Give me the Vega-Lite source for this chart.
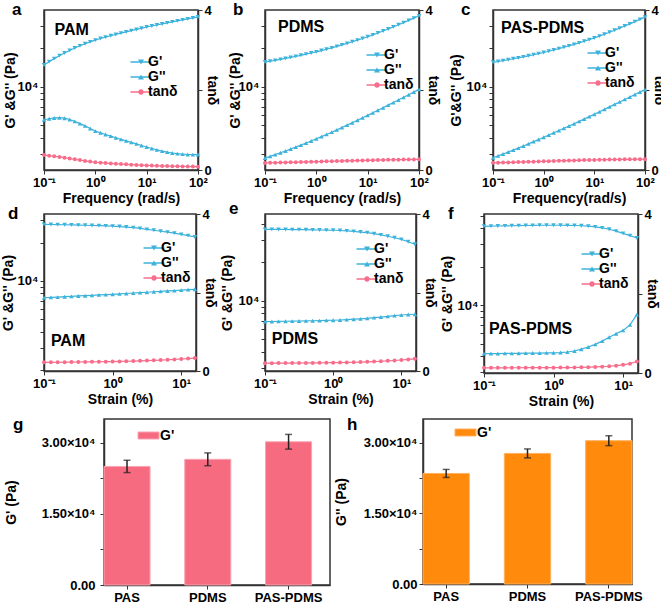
{
"$schema":"https://vega.github.io/schema/vega-lite/v6.json",
"padding":{"left":0,"top":0,"right":0,"bottom":0},
"background":"white",
"config":{
 "font":"Liberation Sans",
 "view":{"stroke":"#333","strokeWidth":1.5},
 "axis":{"grid":false,"labelFont":"Liberation Sans","labelFontWeight":"bold","labelFontSize":13,"labelColor":"black","titleFont":"Liberation Sans","titleFontWeight":"bold","titleFontSize":14,"titleColor":"black","domainColor":"#333","domainWidth":1.5,"tickColor":"#333","tickSize":4,"tickWidth":1,"labelFlush":false,"labelOverlap":false,"labelPadding":2,"titlePadding":2},
 "legend":{"padding":0,"offset":0},
 "title":{"fontSize":17,"fontWeight":"bold","anchor":"start","frame":"group","color":"black","font":"Liberation Sans"}
},
"datasets":{
"freq":[
{"p":"a","x":0.1,"s":"G'","v":14860},{"p":"a","x":0.126,"s":"G'","v":15780},{"p":"a","x":0.158,"s":"G'","v":16670},{"p":"a","x":0.2,"s":"G'","v":17580},{"p":"a","x":0.251,"s":"G'","v":18450},{"p":"a","x":0.316,"s":"G'","v":19320},{"p":"a","x":0.398,"s":"G'","v":20180},{"p":"a","x":0.501,"s":"G'","v":20990},{"p":"a","x":0.631,"s":"G'","v":21780},{"p":"a","x":0.794,"s":"G'","v":22540},{"p":"a","x":1,"s":"G'","v":23280},{"p":"a","x":1.26,"s":"G'","v":23930},{"p":"a","x":1.58,"s":"G'","v":24550},{"p":"a","x":2,"s":"G'","v":25180},{"p":"a","x":2.51,"s":"G'","v":25760},{"p":"a","x":3.16,"s":"G'","v":26360},{"p":"a","x":3.98,"s":"G'","v":26980},{"p":"a","x":5.01,"s":"G'","v":27610},{"p":"a","x":6.31,"s":"G'","v":28180},{"p":"a","x":7.94,"s":"G'","v":28770},{"p":"a","x":10,"s":"G'","v":29440},{"p":"a","x":12.6,"s":"G'","v":29990},{"p":"a","x":15.8,"s":"G'","v":30550},{"p":"a","x":20,"s":"G'","v":31120},{"p":"a","x":25.1,"s":"G'","v":31700},{"p":"a","x":31.6,"s":"G'","v":32280},{"p":"a","x":39.8,"s":"G'","v":32890},{"p":"a","x":50.1,"s":"G'","v":33500},{"p":"a","x":63.1,"s":"G'","v":34120},{"p":"a","x":79.4,"s":"G'","v":34670},{"p":"a","x":100,"s":"G'","v":35240},
{"p":"a","x":0.1,"s":"G''","v":5546},{"p":"a","x":0.126,"s":"G''","v":5649},{"p":"a","x":0.158,"s":"G''","v":5728},{"p":"a","x":0.2,"s":"G''","v":5754},{"p":"a","x":0.251,"s":"G''","v":5702},{"p":"a","x":0.316,"s":"G''","v":5572},{"p":"a","x":0.398,"s":"G''","v":5383},{"p":"a","x":0.501,"s":"G''","v":5176},{"p":"a","x":0.631,"s":"G''","v":4966},{"p":"a","x":0.794,"s":"G''","v":4742},{"p":"a","x":1,"s":"G''","v":4519},{"p":"a","x":1.26,"s":"G''","v":4385},{"p":"a","x":1.58,"s":"G''","v":4256},{"p":"a","x":2,"s":"G''","v":4130},{"p":"a","x":2.51,"s":"G''","v":4009},{"p":"a","x":3.16,"s":"G''","v":3899},{"p":"a","x":3.98,"s":"G''","v":3793},{"p":"a","x":5.01,"s":"G''","v":3690},{"p":"a","x":6.31,"s":"G''","v":3589},{"p":"a","x":7.94,"s":"G''","v":3491},{"p":"a","x":10,"s":"G''","v":3396},{"p":"a","x":12.6,"s":"G''","v":3304},{"p":"a","x":15.8,"s":"G''","v":3221},{"p":"a","x":20,"s":"G''","v":3155},{"p":"a","x":25.1,"s":"G''","v":3097},{"p":"a","x":31.6,"s":"G''","v":3048},{"p":"a","x":39.8,"s":"G''","v":3013},{"p":"a","x":50.1,"s":"G''","v":2985},{"p":"a","x":63.1,"s":"G''","v":2965},{"p":"a","x":79.4,"s":"G''","v":2958},{"p":"a","x":100,"s":"G''","v":2965},
{"p":"a","x":0.1,"s":"tanδ","v":0.373},{"p":"a","x":0.126,"s":"tanδ","v":0.358},{"p":"a","x":0.158,"s":"tanδ","v":0.344},{"p":"a","x":0.2,"s":"tanδ","v":0.327},{"p":"a","x":0.251,"s":"tanδ","v":0.309},{"p":"a","x":0.316,"s":"tanδ","v":0.288},{"p":"a","x":0.398,"s":"tanδ","v":0.267},{"p":"a","x":0.501,"s":"tanδ","v":0.247},{"p":"a","x":0.631,"s":"tanδ","v":0.228},{"p":"a","x":0.794,"s":"tanδ","v":0.21},{"p":"a","x":1,"s":"tanδ","v":0.194},{"p":"a","x":1.26,"s":"tanδ","v":0.183},{"p":"a","x":1.58,"s":"tanδ","v":0.173},{"p":"a","x":2,"s":"tanδ","v":0.164},{"p":"a","x":2.51,"s":"tanδ","v":0.156},{"p":"a","x":3.16,"s":"tanδ","v":0.148},{"p":"a","x":3.98,"s":"tanδ","v":0.141},{"p":"a","x":5.01,"s":"tanδ","v":0.134},{"p":"a","x":6.31,"s":"tanδ","v":0.127},{"p":"a","x":7.94,"s":"tanδ","v":0.121},{"p":"a","x":10,"s":"tanδ","v":0.115},{"p":"a","x":12.6,"s":"tanδ","v":0.11},{"p":"a","x":15.8,"s":"tanδ","v":0.105},{"p":"a","x":20,"s":"tanδ","v":0.101},{"p":"a","x":25.1,"s":"tanδ","v":0.098},{"p":"a","x":31.6,"s":"tanδ","v":0.094},{"p":"a","x":39.8,"s":"tanδ","v":0.092},{"p":"a","x":50.1,"s":"tanδ","v":0.089},{"p":"a","x":63.1,"s":"tanδ","v":0.087},{"p":"a","x":79.4,"s":"tanδ","v":0.085},{"p":"a","x":100,"s":"tanδ","v":0.084},
{"p":"b","x":0.1,"s":"G'","v":15668},{"p":"b","x":0.126,"s":"G'","v":15905},{"p":"b","x":0.158,"s":"G'","v":16164},{"p":"b","x":0.2,"s":"G'","v":16438},{"p":"b","x":0.251,"s":"G'","v":16728},{"p":"b","x":0.316,"s":"G'","v":17035},{"p":"b","x":0.398,"s":"G'","v":17356},{"p":"b","x":0.501,"s":"G'","v":17696},{"p":"b","x":0.631,"s":"G'","v":18054},{"p":"b","x":0.794,"s":"G'","v":18432},{"p":"b","x":1,"s":"G'","v":18836},{"p":"b","x":1.26,"s":"G'","v":19275},{"p":"b","x":1.58,"s":"G'","v":19742},{"p":"b","x":2,"s":"G'","v":20240},{"p":"b","x":2.51,"s":"G'","v":20768},{"p":"b","x":3.16,"s":"G'","v":21330},{"p":"b","x":3.98,"s":"G'","v":21928},{"p":"b","x":5.01,"s":"G'","v":22564},{"p":"b","x":6.31,"s":"G'","v":23240},{"p":"b","x":7.94,"s":"G'","v":23946},{"p":"b","x":10,"s":"G'","v":24697},{"p":"b","x":12.6,"s":"G'","v":25535},{"p":"b","x":15.8,"s":"G'","v":26433},{"p":"b","x":20,"s":"G'","v":27393},{"p":"b","x":25.1,"s":"G'","v":28420},{"p":"b","x":31.6,"s":"G'","v":29512},{"p":"b","x":39.8,"s":"G'","v":30660},{"p":"b","x":50.1,"s":"G'","v":31885},{"p":"b","x":63.1,"s":"G'","v":33180},{"p":"b","x":79.4,"s":"G'","v":34560},{"p":"b","x":100,"s":"G'","v":36020},
{"p":"b","x":0.1,"s":"G''","v":2786},{"p":"b","x":0.126,"s":"G''","v":2871},{"p":"b","x":0.158,"s":"G''","v":2962},{"p":"b","x":0.2,"s":"G''","v":3059},{"p":"b","x":0.251,"s":"G''","v":3162},{"p":"b","x":0.316,"s":"G''","v":3273},{"p":"b","x":0.398,"s":"G''","v":3390},{"p":"b","x":0.501,"s":"G''","v":3513},{"p":"b","x":0.631,"s":"G''","v":3646},{"p":"b","x":0.794,"s":"G''","v":3784},{"p":"b","x":1,"s":"G''","v":3934},{"p":"b","x":1.26,"s":"G''","v":4091},{"p":"b","x":1.58,"s":"G''","v":4257},{"p":"b","x":2,"s":"G''","v":4433},{"p":"b","x":2.51,"s":"G''","v":4620},{"p":"b","x":3.16,"s":"G''","v":4819},{"p":"b","x":3.98,"s":"G''","v":5030},{"p":"b","x":5.01,"s":"G''","v":5254},{"p":"b","x":6.31,"s":"G''","v":5490},{"p":"b","x":7.94,"s":"G''","v":5740},{"p":"b","x":10,"s":"G''","v":6003},{"p":"b","x":12.6,"s":"G''","v":6283},{"p":"b","x":15.8,"s":"G''","v":6577},{"p":"b","x":20,"s":"G''","v":6887},{"p":"b","x":25.1,"s":"G''","v":7213},{"p":"b","x":31.6,"s":"G''","v":7556},{"p":"b","x":39.8,"s":"G''","v":7919},{"p":"b","x":50.1,"s":"G''","v":8302},{"p":"b","x":63.1,"s":"G''","v":8707},{"p":"b","x":79.4,"s":"G''","v":9133},{"p":"b","x":100,"s":"G''","v":9583},
{"p":"b","x":0.1,"s":"tanδ","v":0.178},{"p":"b","x":0.126,"s":"tanδ","v":0.181},{"p":"b","x":0.158,"s":"tanδ","v":0.183},{"p":"b","x":0.2,"s":"tanδ","v":0.186},{"p":"b","x":0.251,"s":"tanδ","v":0.189},{"p":"b","x":0.316,"s":"tanδ","v":0.192},{"p":"b","x":0.398,"s":"tanδ","v":0.195},{"p":"b","x":0.501,"s":"tanδ","v":0.199},{"p":"b","x":0.631,"s":"tanδ","v":0.202},{"p":"b","x":0.794,"s":"tanδ","v":0.205},{"p":"b","x":1,"s":"tanδ","v":0.209},{"p":"b","x":1.26,"s":"tanδ","v":0.212},{"p":"b","x":1.58,"s":"tanδ","v":0.216},{"p":"b","x":2,"s":"tanδ","v":0.219},{"p":"b","x":2.51,"s":"tanδ","v":0.222},{"p":"b","x":3.16,"s":"tanδ","v":0.226},{"p":"b","x":3.98,"s":"tanδ","v":0.229},{"p":"b","x":5.01,"s":"tanδ","v":0.233},{"p":"b","x":6.31,"s":"tanδ","v":0.236},{"p":"b","x":7.94,"s":"tanδ","v":0.24},{"p":"b","x":10,"s":"tanδ","v":0.243},{"p":"b","x":12.6,"s":"tanδ","v":0.246},{"p":"b","x":15.8,"s":"tanδ","v":0.249},{"p":"b","x":20,"s":"tanδ","v":0.251},{"p":"b","x":25.1,"s":"tanδ","v":0.254},{"p":"b","x":31.6,"s":"tanδ","v":0.256},{"p":"b","x":39.8,"s":"tanδ","v":0.258},{"p":"b","x":50.1,"s":"tanδ","v":0.26},{"p":"b","x":63.1,"s":"tanδ","v":0.262},{"p":"b","x":79.4,"s":"tanδ","v":0.264},{"p":"b","x":100,"s":"tanδ","v":0.266},
{"p":"c","x":0.1,"s":"G'","v":15600},{"p":"c","x":0.126,"s":"G'","v":15830},{"p":"c","x":0.158,"s":"G'","v":16080},{"p":"c","x":0.2,"s":"G'","v":16340},{"p":"c","x":0.251,"s":"G'","v":16620},{"p":"c","x":0.316,"s":"G'","v":16910},{"p":"c","x":0.398,"s":"G'","v":17220},{"p":"c","x":0.501,"s":"G'","v":17540},{"p":"c","x":0.631,"s":"G'","v":17880},{"p":"c","x":0.794,"s":"G'","v":18240},{"p":"c","x":1,"s":"G'","v":18620},{"p":"c","x":1.26,"s":"G'","v":19030},{"p":"c","x":1.58,"s":"G'","v":19470},{"p":"c","x":2,"s":"G'","v":19940},{"p":"c","x":2.51,"s":"G'","v":20440},{"p":"c","x":3.16,"s":"G'","v":20970},{"p":"c","x":3.98,"s":"G'","v":21540},{"p":"c","x":5.01,"s":"G'","v":22140},{"p":"c","x":6.31,"s":"G'","v":22780},{"p":"c","x":7.94,"s":"G'","v":23450},{"p":"c","x":10,"s":"G'","v":24160},{"p":"c","x":12.6,"s":"G'","v":24980},{"p":"c","x":15.8,"s":"G'","v":25860},{"p":"c","x":20,"s":"G'","v":26800},{"p":"c","x":25.1,"s":"G'","v":27800},{"p":"c","x":31.6,"s":"G'","v":28870},{"p":"c","x":39.8,"s":"G'","v":29990},{"p":"c","x":50.1,"s":"G'","v":31180},{"p":"c","x":63.1,"s":"G'","v":32440},{"p":"c","x":79.4,"s":"G'","v":33790},{"p":"c","x":100,"s":"G'","v":35200},
{"p":"c","x":0.1,"s":"G''","v":2800},{"p":"c","x":0.126,"s":"G''","v":2895},{"p":"c","x":0.158,"s":"G''","v":2995},{"p":"c","x":0.2,"s":"G''","v":3100},{"p":"c","x":0.251,"s":"G''","v":3210},{"p":"c","x":0.316,"s":"G''","v":3330},{"p":"c","x":0.398,"s":"G''","v":3460},{"p":"c","x":0.501,"s":"G''","v":3595},{"p":"c","x":0.631,"s":"G''","v":3740},{"p":"c","x":0.794,"s":"G''","v":3890},{"p":"c","x":1,"s":"G''","v":4050},{"p":"c","x":1.26,"s":"G''","v":4215},{"p":"c","x":1.58,"s":"G''","v":4385},{"p":"c","x":2,"s":"G''","v":4565},{"p":"c","x":2.51,"s":"G''","v":4755},{"p":"c","x":3.16,"s":"G''","v":4955},{"p":"c","x":3.98,"s":"G''","v":5165},{"p":"c","x":5.01,"s":"G''","v":5385},{"p":"c","x":6.31,"s":"G''","v":5620},{"p":"c","x":7.94,"s":"G''","v":5865},{"p":"c","x":10,"s":"G''","v":6120},{"p":"c","x":12.6,"s":"G''","v":6395},{"p":"c","x":15.8,"s":"G''","v":6685},{"p":"c","x":20,"s":"G''","v":6990},{"p":"c","x":25.1,"s":"G''","v":7310},{"p":"c","x":31.6,"s":"G''","v":7645},{"p":"c","x":39.8,"s":"G''","v":7995},{"p":"c","x":50.1,"s":"G''","v":8360},{"p":"c","x":63.1,"s":"G''","v":8740},{"p":"c","x":79.4,"s":"G''","v":9140},{"p":"c","x":100,"s":"G''","v":9540},
{"p":"c","x":0.1,"s":"tanδ","v":0.179},{"p":"c","x":0.126,"s":"tanδ","v":0.183},{"p":"c","x":0.158,"s":"tanδ","v":0.186},{"p":"c","x":0.2,"s":"tanδ","v":0.19},{"p":"c","x":0.251,"s":"tanδ","v":0.193},{"p":"c","x":0.316,"s":"tanδ","v":0.197},{"p":"c","x":0.398,"s":"tanδ","v":0.201},{"p":"c","x":0.501,"s":"tanδ","v":0.205},{"p":"c","x":0.631,"s":"tanδ","v":0.209},{"p":"c","x":0.794,"s":"tanδ","v":0.213},{"p":"c","x":1,"s":"tanδ","v":0.218},{"p":"c","x":1.26,"s":"tanδ","v":0.221},{"p":"c","x":1.58,"s":"tanδ","v":0.225},{"p":"c","x":2,"s":"tanδ","v":0.229},{"p":"c","x":2.51,"s":"tanδ","v":0.233},{"p":"c","x":3.16,"s":"tanδ","v":0.236},{"p":"c","x":3.98,"s":"tanδ","v":0.24},{"p":"c","x":5.01,"s":"tanδ","v":0.243},{"p":"c","x":6.31,"s":"tanδ","v":0.247},{"p":"c","x":7.94,"s":"tanδ","v":0.25},{"p":"c","x":10,"s":"tanδ","v":0.253},{"p":"c","x":12.6,"s":"tanδ","v":0.256},{"p":"c","x":15.8,"s":"tanδ","v":0.259},{"p":"c","x":20,"s":"tanδ","v":0.261},{"p":"c","x":25.1,"s":"tanδ","v":0.263},{"p":"c","x":31.6,"s":"tanδ","v":0.265},{"p":"c","x":39.8,"s":"tanδ","v":0.267},{"p":"c","x":50.1,"s":"tanδ","v":0.268},{"p":"c","x":63.1,"s":"tanδ","v":0.269},{"p":"c","x":79.4,"s":"tanδ","v":0.27},{"p":"c","x":100,"s":"tanδ","v":0.271}
],
"strain":[
{"p":"d","x":0.1,"s":"G'","v":27730},{"p":"d","x":0.126,"s":"G'","v":27670},{"p":"d","x":0.158,"s":"G'","v":27610},{"p":"d","x":0.2,"s":"G'","v":27540},{"p":"d","x":0.251,"s":"G'","v":27480},{"p":"d","x":0.316,"s":"G'","v":27350},{"p":"d","x":0.398,"s":"G'","v":27290},{"p":"d","x":0.501,"s":"G'","v":27160},{"p":"d","x":0.631,"s":"G'","v":27100},{"p":"d","x":0.794,"s":"G'","v":26980},{"p":"d","x":1,"s":"G'","v":26850},{"p":"d","x":1.26,"s":"G'","v":26670},{"p":"d","x":1.58,"s":"G'","v":26420},{"p":"d","x":2,"s":"G'","v":26120},{"p":"d","x":2.51,"s":"G'","v":25760},{"p":"d","x":3.16,"s":"G'","v":25350},{"p":"d","x":3.98,"s":"G'","v":24950},{"p":"d","x":5.01,"s":"G'","v":24490},{"p":"d","x":6.31,"s":"G'","v":24100},{"p":"d","x":7.94,"s":"G'","v":23660},{"p":"d","x":10,"s":"G'","v":23170},{"p":"d","x":12.6,"s":"G'","v":22650},{"p":"d","x":15.8,"s":"G'","v":22080},
{"p":"d","x":0.1,"s":"G''","v":7396},{"p":"d","x":0.126,"s":"G''","v":7447},{"p":"d","x":0.158,"s":"G''","v":7482},{"p":"d","x":0.2,"s":"G''","v":7534},{"p":"d","x":0.251,"s":"G''","v":7586},{"p":"d","x":0.316,"s":"G''","v":7638},{"p":"d","x":0.398,"s":"G''","v":7674},{"p":"d","x":0.501,"s":"G''","v":7727},{"p":"d","x":0.631,"s":"G''","v":7780},{"p":"d","x":0.794,"s":"G''","v":7816},{"p":"d","x":1,"s":"G''","v":7870},{"p":"d","x":1.26,"s":"G''","v":7925},{"p":"d","x":1.58,"s":"G''","v":7980},{"p":"d","x":2,"s":"G''","v":8054},{"p":"d","x":2.51,"s":"G''","v":8110},{"p":"d","x":3.16,"s":"G''","v":8166},{"p":"d","x":3.98,"s":"G''","v":8241},{"p":"d","x":5.01,"s":"G''","v":8299},{"p":"d","x":6.31,"s":"G''","v":8356},{"p":"d","x":7.94,"s":"G''","v":8414},{"p":"d","x":10,"s":"G''","v":8492},{"p":"d","x":12.6,"s":"G''","v":8551},{"p":"d","x":15.8,"s":"G''","v":8610},
{"p":"d","x":0.1,"s":"tanδ","v":0.22},{"p":"d","x":0.126,"s":"tanδ","v":0.22},{"p":"d","x":0.158,"s":"tanδ","v":0.223},{"p":"d","x":0.2,"s":"tanδ","v":0.225},{"p":"d","x":0.251,"s":"tanδ","v":0.227},{"p":"d","x":0.316,"s":"tanδ","v":0.229},{"p":"d","x":0.398,"s":"tanδ","v":0.231},{"p":"d","x":0.501,"s":"tanδ","v":0.233},{"p":"d","x":0.631,"s":"tanδ","v":0.236},{"p":"d","x":0.794,"s":"tanδ","v":0.238},{"p":"d","x":1,"s":"tanδ","v":0.241},{"p":"d","x":1.26,"s":"tanδ","v":0.245},{"p":"d","x":1.58,"s":"tanδ","v":0.249},{"p":"d","x":2,"s":"tanδ","v":0.254},{"p":"d","x":2.51,"s":"tanδ","v":0.259},{"p":"d","x":3.16,"s":"tanδ","v":0.265},{"p":"d","x":3.98,"s":"tanδ","v":0.272},{"p":"d","x":5.01,"s":"tanδ","v":0.279},{"p":"d","x":6.31,"s":"tanδ","v":0.287},{"p":"d","x":7.94,"s":"tanδ","v":0.296},{"p":"d","x":10,"s":"tanδ","v":0.306},{"p":"d","x":12.6,"s":"tanδ","v":0.317},{"p":"d","x":15.8,"s":"tanδ","v":0.33},
{"p":"e","x":0.1,"s":"G'","v":36310},{"p":"e","x":0.126,"s":"G'","v":36310},{"p":"e","x":0.158,"s":"G'","v":36230},{"p":"e","x":0.2,"s":"G'","v":36230},{"p":"e","x":0.251,"s":"G'","v":36140},{"p":"e","x":0.316,"s":"G'","v":36140},{"p":"e","x":0.398,"s":"G'","v":36060},{"p":"e","x":0.501,"s":"G'","v":35980},{"p":"e","x":0.631,"s":"G'","v":35890},{"p":"e","x":0.794,"s":"G'","v":35810},{"p":"e","x":1,"s":"G'","v":35730},{"p":"e","x":1.26,"s":"G'","v":35560},{"p":"e","x":1.58,"s":"G'","v":35320},{"p":"e","x":2,"s":"G'","v":34990},{"p":"e","x":2.51,"s":"G'","v":34590},{"p":"e","x":3.16,"s":"G'","v":34200},{"p":"e","x":3.98,"s":"G'","v":33570},{"p":"e","x":5.01,"s":"G'","v":32890},{"p":"e","x":6.31,"s":"G'","v":32060},{"p":"e","x":7.94,"s":"G'","v":31190},{"p":"e","x":10,"s":"G'","v":30270},{"p":"e","x":12.6,"s":"G'","v":29040},{"p":"e","x":15.8,"s":"G'","v":27730},
{"p":"e","x":0.1,"s":"G''","v":6887},{"p":"e","x":0.126,"s":"G''","v":6902},{"p":"e","x":0.158,"s":"G''","v":6918},{"p":"e","x":0.2,"s":"G''","v":6934},{"p":"e","x":0.251,"s":"G''","v":6950},{"p":"e","x":0.316,"s":"G''","v":6966},{"p":"e","x":0.398,"s":"G''","v":6982},{"p":"e","x":0.501,"s":"G''","v":6998},{"p":"e","x":0.631,"s":"G''","v":7015},{"p":"e","x":0.794,"s":"G''","v":7047},{"p":"e","x":1,"s":"G''","v":7063},{"p":"e","x":1.26,"s":"G''","v":7096},{"p":"e","x":1.58,"s":"G''","v":7145},{"p":"e","x":2,"s":"G''","v":7194},{"p":"e","x":2.51,"s":"G''","v":7244},{"p":"e","x":3.16,"s":"G''","v":7311},{"p":"e","x":3.98,"s":"G''","v":7396},{"p":"e","x":5.01,"s":"G''","v":7482},{"p":"e","x":6.31,"s":"G''","v":7568},{"p":"e","x":7.94,"s":"G''","v":7674},{"p":"e","x":10,"s":"G''","v":7762},{"p":"e","x":12.6,"s":"G''","v":7834},{"p":"e","x":15.8,"s":"G''","v":7870},
{"p":"e","x":0.1,"s":"tanδ","v":0.2},{"p":"e","x":0.126,"s":"tanδ","v":0.2},{"p":"e","x":0.158,"s":"tanδ","v":0.201},{"p":"e","x":0.2,"s":"tanδ","v":0.202},{"p":"e","x":0.251,"s":"tanδ","v":0.203},{"p":"e","x":0.316,"s":"tanδ","v":0.204},{"p":"e","x":0.398,"s":"tanδ","v":0.205},{"p":"e","x":0.501,"s":"tanδ","v":0.206},{"p":"e","x":0.631,"s":"tanδ","v":0.208},{"p":"e","x":0.794,"s":"tanδ","v":0.21},{"p":"e","x":1,"s":"tanδ","v":0.212},{"p":"e","x":1.26,"s":"tanδ","v":0.215},{"p":"e","x":1.58,"s":"tanδ","v":0.219},{"p":"e","x":2,"s":"tanδ","v":0.223},{"p":"e","x":2.51,"s":"tanδ","v":0.228},{"p":"e","x":3.16,"s":"tanδ","v":0.234},{"p":"e","x":3.98,"s":"tanδ","v":0.241},{"p":"e","x":5.01,"s":"tanδ","v":0.249},{"p":"e","x":6.31,"s":"tanδ","v":0.258},{"p":"e","x":7.94,"s":"tanδ","v":0.268},{"p":"e","x":10,"s":"tanδ","v":0.28},{"p":"e","x":12.6,"s":"tanδ","v":0.294},{"p":"e","x":15.8,"s":"tanδ","v":0.31},
{"p":"f","x":0.1,"s":"G'","v":41300},{"p":"f","x":0.126,"s":"G'","v":41400},{"p":"f","x":0.158,"s":"G'","v":41500},{"p":"f","x":0.2,"s":"G'","v":41590},{"p":"f","x":0.251,"s":"G'","v":41690},{"p":"f","x":0.316,"s":"G'","v":41780},{"p":"f","x":0.398,"s":"G'","v":41880},{"p":"f","x":0.501,"s":"G'","v":41980},{"p":"f","x":0.631,"s":"G'","v":42070},{"p":"f","x":0.794,"s":"G'","v":42070},{"p":"f","x":1,"s":"G'","v":42070},{"p":"f","x":1.26,"s":"G'","v":42070},{"p":"f","x":1.58,"s":"G'","v":41980},{"p":"f","x":2,"s":"G'","v":41880},{"p":"f","x":2.51,"s":"G'","v":41690},{"p":"f","x":3.16,"s":"G'","v":41400},{"p":"f","x":3.98,"s":"G'","v":40830},{"p":"f","x":5.01,"s":"G'","v":40090},{"p":"f","x":6.31,"s":"G'","v":39170},{"p":"f","x":7.94,"s":"G'","v":37840},{"p":"f","x":10,"s":"G'","v":36310},{"p":"f","x":12.6,"s":"G'","v":34910},{"p":"f","x":15.8,"s":"G'","v":33420},
{"p":"f","x":0.1,"s":"G''","v":4169},{"p":"f","x":0.126,"s":"G''","v":4178},{"p":"f","x":0.158,"s":"G''","v":4178},{"p":"f","x":0.2,"s":"G''","v":4188},{"p":"f","x":0.251,"s":"G''","v":4188},{"p":"f","x":0.316,"s":"G''","v":4198},{"p":"f","x":0.398,"s":"G''","v":4207},{"p":"f","x":0.501,"s":"G''","v":4217},{"p":"f","x":0.631,"s":"G''","v":4217},{"p":"f","x":0.794,"s":"G''","v":4227},{"p":"f","x":1,"s":"G''","v":4236},{"p":"f","x":1.26,"s":"G''","v":4256},{"p":"f","x":1.58,"s":"G''","v":4295},{"p":"f","x":2,"s":"G''","v":4375},{"p":"f","x":2.51,"s":"G''","v":4519},{"p":"f","x":3.16,"s":"G''","v":4699},{"p":"f","x":3.98,"s":"G''","v":4932},{"p":"f","x":5.01,"s":"G''","v":5224},{"p":"f","x":6.31,"s":"G''","v":5598},{"p":"f","x":7.94,"s":"G''","v":5970},{"p":"f","x":10,"s":"G''","v":6339},{"p":"f","x":12.6,"s":"G''","v":6998},{"p":"f","x":15.8,"s":"G''","v":8414},
{"p":"f","x":0.1,"s":"tanδ","v":0.13},{"p":"f","x":0.126,"s":"tanδ","v":0.13},{"p":"f","x":0.158,"s":"tanδ","v":0.131},{"p":"f","x":0.2,"s":"tanδ","v":0.131},{"p":"f","x":0.251,"s":"tanδ","v":0.132},{"p":"f","x":0.316,"s":"tanδ","v":0.132},{"p":"f","x":0.398,"s":"tanδ","v":0.133},{"p":"f","x":0.501,"s":"tanδ","v":0.133},{"p":"f","x":0.631,"s":"tanδ","v":0.134},{"p":"f","x":0.794,"s":"tanδ","v":0.134},{"p":"f","x":1,"s":"tanδ","v":0.135},{"p":"f","x":1.26,"s":"tanδ","v":0.136},{"p":"f","x":1.58,"s":"tanδ","v":0.137},{"p":"f","x":2,"s":"tanδ","v":0.139},{"p":"f","x":2.51,"s":"tanδ","v":0.142},{"p":"f","x":3.16,"s":"tanδ","v":0.146},{"p":"f","x":3.98,"s":"tanδ","v":0.152},{"p":"f","x":5.01,"s":"tanδ","v":0.16},{"p":"f","x":6.31,"s":"tanδ","v":0.17},{"p":"f","x":7.94,"s":"tanδ","v":0.185},{"p":"f","x":10,"s":"tanδ","v":0.205},{"p":"f","x":12.6,"s":"tanδ","v":0.235},{"p":"f","x":15.8,"s":"tanδ","v":0.29}
],
"bars":[
{"p":"g","cat":"PAS","s":"G'","v":25000,"e":1300},{"p":"g","cat":"PDMS","s":"G'","v":26500,"e":1350},{"p":"g","cat":"PAS-PDMS","s":"G'","v":30200,"e":1550},
{"p":"h","cat":"PAS","s":"G'","v":23450,"e":850},{"p":"h","cat":"PDMS","s":"G'","v":27700,"e":950},{"p":"h","cat":"PAS-PDMS","s":"G'","v":30400,"e":1050}
]
},
"spacing":5,
"resolve":{"scale":{"color":"independent","shape":"independent"},"legend":{"color":"independent","shape":"independent"}},
"vconcat":[
{"vconcat":[
{"hconcat":[
 {"width":154,"height":160,"title":{"text":"a","dx":-32,"offset":-15},
  "data":{"name":"freq"},"transform":[{"filter":"datum.p == 'a'"}],
  "encoding":{
   "x":{"field":"x","type":"quantitative","scale":{"type":"log","domain":[0.1,100],"nice":false},"axis":{"values":[0.1,1,10,100],"labelExpr":"datum.value < 0.5 ? '10⁻¹' : datum.value < 5 ? '10⁰' : datum.value < 50 ? '10¹' : '10²'","title":"Frequency (rad/s)"}},
   "color":{"field":"s","type":"nominal","scale":{"domain":["G'","G''","tanδ"],"range":["#3DB2DB","#3DB2DB","#F76E8C"]},
    "legend":{"title":null,"orient":"none","legendX":90,"legendY":45,"symbolSize":36,"labelOffset":0,"rowPadding":1,"labelFontSize":14,"labelFontWeight":"bold","labelFont":"Liberation Sans","labelColor":"black","symbolOpacity":1,"symbolStrokeWidth":0}}
  },
  "layer":[
   {"transform":[{"filter":"datum.s != 'tanδ'"}],
    "encoding":{"y":{"field":"v","type":"quantitative","scale":{"type":"log","domain":[2244,40000],"nice":false},"axis":{"values":[3000,4000,5000,6000,7000,8000,9000,10000,20000,30000],"labelExpr":"datum.value == 10000 ? '10⁴' : ''","title":"G' &G'' (Pa)","titleX":-27}}},
    "layer":[
     {"transform":[{"filter":"false"}],"mark":{"type":"point","filled":true},"encoding":{"shape":{"field":"s","type":"nominal","scale":{"domain":["G'","G''","tanδ"],"range":["M-3.5,-0.25H3.5V0.25H-3.5ZM-1,-0.85H1L0,0.85Z","M-3.5,-0.25H3.5V0.25H-3.5ZM1,0.85H-1L0,-0.85Z","M-3.5,-0.25H3.5V0.25H-3.5ZM0.9,0A0.9,0.9,0,1,1,-0.9,0A0.9,0.9,0,1,1,0.9,0Z"]},"legend":null}}},
     {"mark":{"type":"line","strokeWidth":1.2}},
     {"transform":[{"filter":"datum.s == \"G'\""}],"mark":{"type":"point","filled":true,"size":20,"opacity":1,"shape":"triangle-down"}},
     {"transform":[{"filter":"datum.s == \"G''\""}],"mark":{"type":"point","filled":true,"size":20,"opacity":1,"shape":"triangle-up"}},
     {"transform":[{"filter":"datum.s == \"G'\" && datum.x == 0.1"}],"mark":{"type":"text","text":"PAM","align":"left","baseline":"middle","fontSize":16,"fontWeight":"bold","font":"Liberation Sans","color":"black"},"encoding":{"x":{"datum":0.16,"type":"quantitative"},"y":{"datum":27900,"type":"quantitative"},"color":{"value":"black"}}}
    ]},
   {"transform":[{"filter":"datum.s == 'tanδ'"}],
    "encoding":{"y":{"field":"v","type":"quantitative","scale":{"domain":[0,4],"nice":false},"axis":{"orient":"right","values":[0,2,4],"labelExpr":"datum.value == 2 ? '' : datum.label","title":"tanδ","titleX":6}}},
    "layer":[
     {"mark":{"type":"line","strokeWidth":1.2}},
     {"mark":{"type":"point","filled":true,"size":16,"opacity":1,"shape":"circle"}}
    ]}
  ],
  "resolve":{"scale":{"y":"independent"}}
 },
 {"width":154,"height":160,"title":{"text":"b","dx":-32,"offset":-15},
  "data":{"name":"freq"},"transform":[{"filter":"datum.p == 'b'"}],
  "encoding":{
   "x":{"field":"x","type":"quantitative","scale":{"type":"log","domain":[0.1,100],"nice":false},"axis":{"values":[0.1,1,10,100],"labelExpr":"datum.value < 0.5 ? '10⁻¹' : datum.value < 5 ? '10⁰' : datum.value < 50 ? '10¹' : '10²'","title":"Frequency (rad/s)"}},
   "color":{"field":"s","type":"nominal","scale":{"domain":["G'","G''","tanδ"],"range":["#3DB2DB","#3DB2DB","#F76E8C"]},
    "legend":{"title":null,"orient":"none","legendX":105,"legendY":38,"symbolSize":36,"labelOffset":0,"rowPadding":1,"labelFontSize":14,"labelFontWeight":"bold","labelFont":"Liberation Sans","labelColor":"black","symbolOpacity":1,"symbolStrokeWidth":0}}
  },
  "layer":[
   {"transform":[{"filter":"datum.s != 'tanδ'"}],
    "encoding":{"y":{"field":"v","type":"quantitative","scale":{"type":"log","domain":[2244,40000],"nice":false},"axis":{"values":[3000,4000,5000,6000,7000,8000,9000,10000,20000,30000],"labelExpr":"datum.value == 10000 ? '10⁴' : ''","title":"G' &G'' (Pa)","titleX":-23}}},
    "layer":[
     {"transform":[{"filter":"false"}],"mark":{"type":"point","filled":true},"encoding":{"shape":{"field":"s","type":"nominal","scale":{"domain":["G'","G''","tanδ"],"range":["M-3.5,-0.25H3.5V0.25H-3.5ZM-1,-0.85H1L0,0.85Z","M-3.5,-0.25H3.5V0.25H-3.5ZM1,0.85H-1L0,-0.85Z","M-3.5,-0.25H3.5V0.25H-3.5ZM0.9,0A0.9,0.9,0,1,1,-0.9,0A0.9,0.9,0,1,1,0.9,0Z"]},"legend":null}}},
     {"mark":{"type":"line","strokeWidth":1.2}},
     {"transform":[{"filter":"datum.s == \"G'\""}],"mark":{"type":"point","filled":true,"size":20,"opacity":1,"shape":"triangle-down"}},
     {"transform":[{"filter":"datum.s == \"G''\""}],"mark":{"type":"point","filled":true,"size":20,"opacity":1,"shape":"triangle-up"}},
     {"transform":[{"filter":"datum.s == \"G'\" && datum.x == 0.1"}],"mark":{"type":"text","text":"PDMS","align":"left","baseline":"middle","fontSize":16,"fontWeight":"bold","font":"Liberation Sans","color":"black"},"encoding":{"x":{"datum":0.179,"type":"quantitative"},"y":{"datum":29400,"type":"quantitative"},"color":{"value":"black"}}}
    ]},
   {"transform":[{"filter":"datum.s == 'tanδ'"}],
    "encoding":{"y":{"field":"v","type":"quantitative","scale":{"domain":[0,4],"nice":false},"axis":{"orient":"right","values":[0,2,4],"labelExpr":"datum.value == 2 ? '' : datum.label","title":"tanδ","titleX":6}}},
    "layer":[
     {"mark":{"type":"line","strokeWidth":1.2}},
     {"mark":{"type":"point","filled":true,"size":16,"opacity":1,"shape":"circle"}}
    ]}
  ],
  "resolve":{"scale":{"y":"independent"}}
 },
 {"width":152,"height":160,"title":{"text":"c","dx":-32,"offset":-15},
  "data":{"name":"freq"},"transform":[{"filter":"datum.p == 'c'"}],
  "encoding":{
   "x":{"field":"x","type":"quantitative","scale":{"type":"log","domain":[0.1,100],"nice":false},"axis":{"values":[0.1,1,10,100],"labelExpr":"datum.value < 0.5 ? '10⁻¹' : datum.value < 5 ? '10⁰' : datum.value < 50 ? '10¹' : '10²'","title":"Frequency(rad/s)"}},
   "color":{"field":"s","type":"nominal","scale":{"domain":["G'","G''","tanδ"],"range":["#3DB2DB","#3DB2DB","#F76E8C"]},
    "legend":{"title":null,"orient":"none","legendX":98,"legendY":36,"symbolSize":36,"labelOffset":0,"rowPadding":1,"labelFontSize":14,"labelFontWeight":"bold","labelFont":"Liberation Sans","labelColor":"black","symbolOpacity":1,"symbolStrokeWidth":0}}
  },
  "layer":[
   {"transform":[{"filter":"datum.s != 'tanδ'"}],
    "encoding":{"y":{"field":"v","type":"quantitative","scale":{"type":"log","domain":[2244,40000],"nice":false},"axis":{"values":[3000,4000,5000,6000,7000,8000,9000,10000,20000,30000],"labelExpr":"datum.value == 10000 ? '10⁴' : ''","title":"G'&G'' (Pa)","titleX":-30}}},
    "layer":[
     {"transform":[{"filter":"false"}],"mark":{"type":"point","filled":true},"encoding":{"shape":{"field":"s","type":"nominal","scale":{"domain":["G'","G''","tanδ"],"range":["M-3.5,-0.25H3.5V0.25H-3.5ZM-1,-0.85H1L0,0.85Z","M-3.5,-0.25H3.5V0.25H-3.5ZM1,0.85H-1L0,-0.85Z","M-3.5,-0.25H3.5V0.25H-3.5ZM0.9,0A0.9,0.9,0,1,1,-0.9,0A0.9,0.9,0,1,1,0.9,0Z"]},"legend":null}}},
     {"mark":{"type":"line","strokeWidth":1.2}},
     {"transform":[{"filter":"datum.s == \"G'\""}],"mark":{"type":"point","filled":true,"size":20,"opacity":1,"shape":"triangle-down"}},
     {"transform":[{"filter":"datum.s == \"G''\""}],"mark":{"type":"point","filled":true,"size":20,"opacity":1,"shape":"triangle-up"}},
     {"transform":[{"filter":"datum.s == \"G'\" && datum.x == 0.1"}],"mark":{"type":"text","text":"PAS-PDMS","align":"left","baseline":"middle","fontSize":16,"fontWeight":"bold","font":"Liberation Sans","color":"black"},"encoding":{"x":{"datum":0.144,"type":"quantitative"},"y":{"datum":28900,"type":"quantitative"},"color":{"value":"black"}}}
    ]},
   {"transform":[{"filter":"datum.s == 'tanδ'"}],
    "encoding":{"y":{"field":"v","type":"quantitative","scale":{"domain":[0,4],"nice":false},"axis":{"orient":"right","values":[0,2,4],"labelExpr":"datum.value == 2 ? '' : datum.label","title":"tanδ","titleX":6}}},
    "layer":[
     {"mark":{"type":"line","strokeWidth":1.2}},
     {"mark":{"type":"point","filled":true,"size":16,"opacity":1,"shape":"circle"}}
    ]}
  ],
  "resolve":{"scale":{"y":"independent"}}
 }
],"spacing":8,"resolve":{"scale":{"color":"independent","shape":"independent"},"legend":{"color":"independent","shape":"independent"}}},
{"hconcat":[
 {"width":152,"height":157,"title":{"text":"d","dx":-36,"offset":-15},
  "data":{"name":"strain"},"transform":[{"filter":"datum.p == 'd'"}],
  "encoding":{
   "x":{"field":"x","type":"quantitative","scale":{"type":"log","domain":[0.1,16.4],"nice":false},"axis":{"values":[0.1,1,10],"labelExpr":"datum.value < 0.5 ? '10⁻¹' : datum.value < 5 ? '10⁰' : '10¹'","title":"Strain (%)"}},
   "color":{"field":"s","type":"nominal","scale":{"domain":["G'","G''","tanδ"],"range":["#3DB2DB","#3DB2DB","#F76E8C"]},
    "legend":{"title":null,"orient":"none","legendX":103,"legendY":27,"symbolSize":36,"labelOffset":0,"rowPadding":1,"labelFontSize":14,"labelFontWeight":"bold","labelFont":"Liberation Sans","labelColor":"black","symbolOpacity":1,"symbolStrokeWidth":0}}
  },
  "layer":[
   {"transform":[{"filter":"datum.s != 'tanδ'"}],
    "encoding":{"y":{"field":"v","type":"quantitative","scale":{"type":"log","domain":[1977,33420],"nice":false},"axis":{"values":[2000,3000,4000,5000,6000,7000,8000,9000,10000,20000,30000],"labelExpr":"datum.value == 10000 ? '10⁴' : ''","title":"G' &G'' (Pa)","titleX":-29}}},
    "layer":[
     {"transform":[{"filter":"false"}],"mark":{"type":"point","filled":true},"encoding":{"shape":{"field":"s","type":"nominal","scale":{"domain":["G'","G''","tanδ"],"range":["M-3.5,-0.25H3.5V0.25H-3.5ZM-1,-0.85H1L0,0.85Z","M-3.5,-0.25H3.5V0.25H-3.5ZM1,0.85H-1L0,-0.85Z","M-3.5,-0.25H3.5V0.25H-3.5ZM0.9,0A0.9,0.9,0,1,1,-0.9,0A0.9,0.9,0,1,1,0.9,0Z"]},"legend":null}}},
     {"mark":{"type":"line","strokeWidth":1.2}},
     {"transform":[{"filter":"datum.s == \"G'\""}],"mark":{"type":"point","filled":true,"size":20,"opacity":1,"shape":"triangle-down"}},
     {"transform":[{"filter":"datum.s == \"G''\""}],"mark":{"type":"point","filled":true,"size":20,"opacity":1,"shape":"triangle-up"}},
     {"transform":[{"filter":"datum.s == \"G'\" && datum.x == 0.1"}],"mark":{"type":"text","text":"PAM","align":"left","baseline":"middle","fontSize":16,"fontWeight":"bold","font":"Liberation Sans","color":"black"},"encoding":{"x":{"datum":0.126,"type":"quantitative"},"y":{"datum":3400,"type":"quantitative"},"color":{"value":"black"}}}
    ]},
   {"transform":[{"filter":"datum.s == 'tanδ'"}],
    "encoding":{"y":{"field":"v","type":"quantitative","scale":{"domain":[0,4],"nice":false},"axis":{"orient":"right","values":[0,2,4],"labelExpr":"datum.value == 2 ? '' : datum.label","title":"tanδ","titleX":6}}},
    "layer":[
     {"mark":{"type":"line","strokeWidth":1.2}},
     {"mark":{"type":"point","filled":true,"size":16,"opacity":1,"shape":"circle"}}
    ]}
  ],
  "resolve":{"scale":{"y":"independent"}}
 },
 {"width":151,"height":157,"title":{"text":"e","dx":-36,"offset":-10},
  "data":{"name":"strain"},"transform":[{"filter":"datum.p == 'e'"}],
  "encoding":{
   "x":{"field":"x","type":"quantitative","scale":{"type":"log","domain":[0.1,16.4],"nice":false},"axis":{"values":[0.1,1,10],"labelExpr":"datum.value < 0.5 ? '10⁻¹' : datum.value < 5 ? '10⁰' : '10¹'","title":"Strain (%)"}},
   "color":{"field":"s","type":"nominal","scale":{"domain":["G'","G''","tanδ"],"range":["#3DB2DB","#3DB2DB","#F76E8C"]},
    "legend":{"title":null,"orient":"none","legendX":95,"legendY":28,"symbolSize":36,"labelOffset":0,"rowPadding":1,"labelFontSize":14,"labelFontWeight":"bold","labelFont":"Liberation Sans","labelColor":"black","symbolOpacity":1,"symbolStrokeWidth":0}}
  },
  "layer":[
   {"transform":[{"filter":"datum.s != 'tanδ'"}],
    "encoding":{"y":{"field":"v","type":"quantitative","scale":{"type":"log","domain":[2831,47860],"nice":false},"axis":{"values":[3000,4000,5000,6000,7000,8000,9000,10000,20000,30000,40000],"labelExpr":"datum.value == 10000 ? '10⁴' : ''","title":"G' &G'' (Pa)","titleX":-31}}},
    "layer":[
     {"transform":[{"filter":"false"}],"mark":{"type":"point","filled":true},"encoding":{"shape":{"field":"s","type":"nominal","scale":{"domain":["G'","G''","tanδ"],"range":["M-3.5,-0.25H3.5V0.25H-3.5ZM-1,-0.85H1L0,0.85Z","M-3.5,-0.25H3.5V0.25H-3.5ZM1,0.85H-1L0,-0.85Z","M-3.5,-0.25H3.5V0.25H-3.5ZM0.9,0A0.9,0.9,0,1,1,-0.9,0A0.9,0.9,0,1,1,0.9,0Z"]},"legend":null}}},
     {"mark":{"type":"line","strokeWidth":1.2}},
     {"transform":[{"filter":"datum.s == \"G'\""}],"mark":{"type":"point","filled":true,"size":20,"opacity":1,"shape":"triangle-down"}},
     {"transform":[{"filter":"datum.s == \"G''\""}],"mark":{"type":"point","filled":true,"size":20,"opacity":1,"shape":"triangle-up"}},
     {"transform":[{"filter":"datum.s == \"G'\" && datum.x == 0.1"}],"mark":{"type":"text","text":"PDMS","align":"left","baseline":"middle","fontSize":16,"fontWeight":"bold","font":"Liberation Sans","color":"black"},"encoding":{"x":{"datum":0.126,"type":"quantitative"},"y":{"datum":5050,"type":"quantitative"},"color":{"value":"black"}}}
    ]},
   {"transform":[{"filter":"datum.s == 'tanδ'"}],
    "encoding":{"y":{"field":"v","type":"quantitative","scale":{"domain":[0,4],"nice":false},"axis":{"orient":"right","values":[0,2,4],"labelExpr":"datum.value == 2 ? '' : datum.label","title":"tanδ","titleX":6}}},
    "layer":[
     {"mark":{"type":"line","strokeWidth":1.2}},
     {"mark":{"type":"point","filled":true,"size":16,"opacity":1,"shape":"circle"}}
    ]}
  ],
  "resolve":{"scale":{"y":"independent"}}
 },
 {"width":154,"height":159,"title":{"text":"f","dx":-36,"offset":-14.5},
  "data":{"name":"strain"},"transform":[{"filter":"datum.p == 'f'"}],
  "encoding":{
   "x":{"field":"x","type":"quantitative","scale":{"type":"log","domain":[0.1,16.4],"nice":false},"axis":{"values":[0.1,1,10],"labelExpr":"datum.value < 0.5 ? '10⁻¹' : datum.value < 5 ? '10⁰' : '10¹'","title":"Strain (%)"}},
   "color":{"field":"s","type":"nominal","scale":{"domain":["G'","G''","tanδ"],"range":["#3DB2DB","#3DB2DB","#F76E8C"]},
    "legend":{"title":null,"orient":"none","legendX":101,"legendY":33,"symbolSize":36,"labelOffset":0,"rowPadding":1,"labelFontSize":14,"labelFontWeight":"bold","labelFont":"Liberation Sans","labelColor":"black","symbolOpacity":1,"symbolStrokeWidth":0}}
  },
  "layer":[
   {"transform":[{"filter":"datum.s != 'tanδ'"}],
    "encoding":{"y":{"field":"v","type":"quantitative","scale":{"type":"log","domain":[2944,51520],"nice":false},"axis":{"values":[3000,4000,5000,6000,7000,8000,9000,10000,20000,30000,40000,50000],"labelExpr":"datum.value == 10000 ? '10⁴' : ''","title":"G' &G'' (Pa)","titleX":-30}}},
    "layer":[
     {"transform":[{"filter":"false"}],"mark":{"type":"point","filled":true},"encoding":{"shape":{"field":"s","type":"nominal","scale":{"domain":["G'","G''","tanδ"],"range":["M-3.5,-0.25H3.5V0.25H-3.5ZM-1,-0.85H1L0,0.85Z","M-3.5,-0.25H3.5V0.25H-3.5ZM1,0.85H-1L0,-0.85Z","M-3.5,-0.25H3.5V0.25H-3.5ZM0.9,0A0.9,0.9,0,1,1,-0.9,0A0.9,0.9,0,1,1,0.9,0Z"]},"legend":null}}},
     {"mark":{"type":"line","strokeWidth":1.2}},
     {"transform":[{"filter":"datum.s == \"G'\""}],"mark":{"type":"point","filled":true,"size":20,"opacity":1,"shape":"triangle-down"}},
     {"transform":[{"filter":"datum.s == \"G''\""}],"mark":{"type":"point","filled":true,"size":20,"opacity":1,"shape":"triangle-up"}},
     {"transform":[{"filter":"datum.s == \"G'\" && datum.x == 0.1"}],"mark":{"type":"text","text":"PAS-PDMS","align":"left","baseline":"middle","fontSize":16,"fontWeight":"bold","font":"Liberation Sans","color":"black"},"encoding":{"x":{"datum":0.118,"type":"quantitative"},"y":{"datum":6500,"type":"quantitative"},"color":{"value":"black"}}}
    ]},
   {"transform":[{"filter":"datum.s == 'tanδ'"}],
    "encoding":{"y":{"field":"v","type":"quantitative","scale":{"domain":[0,4],"nice":false},"axis":{"orient":"right","values":[0,2,4],"labelExpr":"datum.value == 2 ? '' : datum.label","title":"tanδ","titleX":6}}},
    "layer":[
     {"mark":{"type":"line","strokeWidth":1.2}},
     {"mark":{"type":"point","filled":true,"size":16,"opacity":1,"shape":"circle"}}
    ]}
  ],
  "resolve":{"scale":{"y":"independent"}}
 }
],"spacing":2,"resolve":{"scale":{"color":"independent","shape":"independent"},"legend":{"color":"independent","shape":"independent"}}}
],"spacing":-7,"resolve":{"scale":{"color":"independent","shape":"independent"},"legend":{"color":"independent","shape":"independent"}}},
{"hconcat":[
 {"width":52,"height":166,"title":{"text":"g","dx":-31,"offset":-15},"view":{"stroke":null},
  "data":{"name":"bars"},"transform":[{"filter":"datum.p == 'g'"}],
  "mark":{"type":"tick","opacity":0},
  "encoding":{"y":{"field":"v","type":"quantitative","title":"G' (Pa)","scale":{"domain":[0,35000],"nice":false},"axis":{"offset":-52,"values":[0,15000,30000],"labelExpr":"datum.value == 0 ? '0.00' : datum.value == 15000 ? '1.50×10⁴' : '3.00×10⁴'","ticks":false,"domain":false,"labelPadding":1,"titleX":-78}}}
 },
 {"width":226,"height":166,
  "data":{"name":"bars"},"transform":[{"filter":"datum.p == 'g'"}],
  "encoding":{"x":{"field":"cat","type":"nominal","sort":null,"scale":{"paddingInner":0.43,"paddingOuter":0.114,"align":0},"axis":{"title":null,"labelAngle":0}}},
  "layer":[
   {"mark":{"type":"bar","stroke":"#FBA3B2","strokeWidth":1},
    "encoding":{"y":{"field":"v","type":"quantitative","title":null,"scale":{"domain":[0,35000],"nice":false},"axis":{"values":[0,7500,15000,22500,30000],"labels":false,"title":null}},
     "color":{"field":"s","type":"nominal","scale":{"domain":["G'"],"range":["#F66B80"]},
      "legend":{"title":null,"orient":"none","legendX":37,"legendY":9,"symbolType":"M-1.5,-0.5H1.5V0.5H-1.5Z","symbolSize":196,"symbolStrokeColor":"#FBA3B2","symbolStrokeWidth":1,"symbolOpacity":1,"labelOffset":4,"labelFontSize":14,"labelFontWeight":"bold","labelFont":"Liberation Sans","labelColor":"black"}}}},
   {"mark":{"type":"errorbar","ticks":{"size":7},"color":"#222","thickness":1.5},
    "encoding":{"y":{"field":"v","type":"quantitative","title":null},"yError":{"field":"e"}}}
  ]
 },
 {"width":209,"height":165,"title":{"text":"h","dx":-76,"offset":-14.5},
  "data":{"name":"bars"},"transform":[{"filter":"datum.p == 'h'"}],
  "encoding":{"x":{"field":"cat","type":"nominal","sort":null,"scale":{"paddingInner":0.43,"paddingOuter":0},"axis":{"title":null,"labelAngle":0}}},
  "layer":[
   {"mark":{"type":"bar","stroke":"#FFB160","strokeWidth":1},
    "encoding":{"y":{"field":"v","type":"quantitative","title":"G'' (Pa)","scale":{"domain":[0,35000],"nice":false},"axis":{"values":[0,7500,15000,22500,30000],"labelExpr":"datum.value == 0 ? '0.00' : datum.value == 15000 ? '1.50×10⁴' : datum.value == 30000 ? '3.00×10⁴' : ''","titleX":-75}},
     "color":{"field":"s","type":"nominal","scale":{"domain":["G'"],"range":["#FF8A0C"]},
      "legend":{"title":null,"orient":"none","legendX":35,"legendY":6,"symbolType":"M-1.5,-0.5H1.5V0.5H-1.5Z","symbolSize":196,"symbolStrokeColor":"#FFB160","symbolStrokeWidth":1,"symbolOpacity":1,"labelOffset":4,"labelFontSize":14,"labelFontWeight":"bold","labelFont":"Liberation Sans","labelColor":"black"}}}},
   {"mark":{"type":"errorbar","ticks":{"size":7},"color":"#222","thickness":1.5},
    "encoding":{"y":{"field":"v","type":"quantitative","title":"G'' (Pa)"},"yError":{"field":"e"}}}
  ]
 }
],"spacing":2,"resolve":{"scale":{"color":"independent","shape":"independent","y":"independent"},"legend":{"color":"independent","shape":"independent"}}}
]
}
